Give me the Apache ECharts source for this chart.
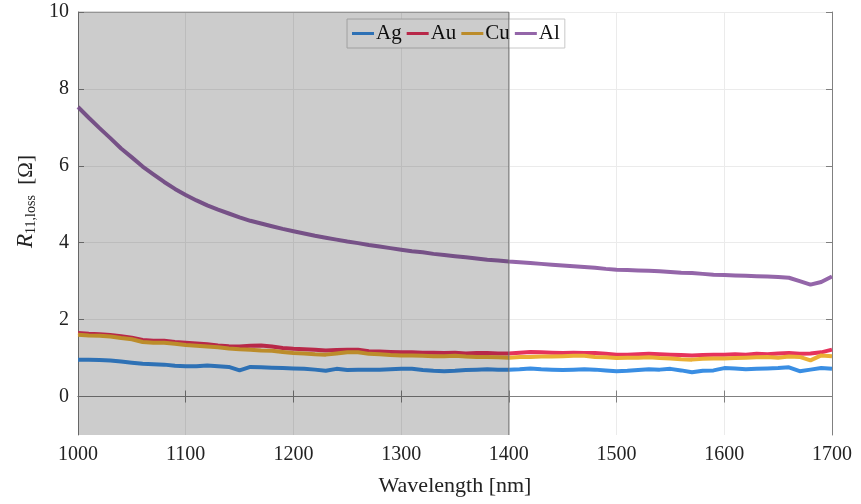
<!DOCTYPE html>
<html>
<head>
<meta charset="utf-8">
<script src="https://cdn.jsdelivr.net/npm/echarts@6/dist/echarts.min.js"></script>
<style>
  html, body { margin: 0; padding: 0; background: #fff; }
  #chart { width: 861px; height: 504px; }
</style>
</head>
<body>
<div id="chart"></div>
<script>
// wavelength grid, nm
const wavelengths = [];
for (let w = 1000; w <= 1700; w += 10) wavelengths.push(w);

// values, ohm
const agValues = [0.96, 0.96, 0.95, 0.94, 0.91, 0.88, 0.85, 0.84, 0.83, 0.80,
  0.79, 0.79, 0.81, 0.79, 0.77, 0.68, 0.77, 0.76, 0.75, 0.74,
  0.73, 0.72, 0.70, 0.67, 0.72, 0.69, 0.70, 0.70, 0.70, 0.71,
  0.72, 0.72, 0.69, 0.67, 0.66, 0.67, 0.69, 0.70, 0.71, 0.70,
  0.70, 0.71, 0.73, 0.71, 0.70, 0.69, 0.70, 0.71, 0.70, 0.68,
  0.66, 0.67, 0.69, 0.71, 0.70, 0.72, 0.68, 0.63, 0.67, 0.68,
  0.74, 0.73, 0.71, 0.72, 0.73, 0.74, 0.76, 0.66, 0.70, 0.74, 0.72];
const auValues = [1.65, 1.63, 1.62, 1.60, 1.57, 1.53, 1.47, 1.45, 1.45, 1.42,
  1.40, 1.38, 1.36, 1.33, 1.31, 1.30, 1.32, 1.33, 1.30, 1.26,
  1.24, 1.23, 1.22, 1.20, 1.21, 1.22, 1.22, 1.18, 1.17, 1.16,
  1.15, 1.15, 1.14, 1.14, 1.13, 1.14, 1.12, 1.13, 1.13, 1.12,
  1.12, 1.14, 1.16, 1.15, 1.14, 1.13, 1.14, 1.13, 1.13, 1.11,
  1.09, 1.09, 1.10, 1.11, 1.10, 1.09, 1.08, 1.07, 1.08, 1.09,
  1.09, 1.10, 1.09, 1.11, 1.10, 1.12, 1.13, 1.11, 1.12, 1.15, 1.22];
const cuValues = [1.61, 1.59, 1.58, 1.56, 1.52, 1.49, 1.42, 1.40, 1.40, 1.37,
  1.34, 1.32, 1.30, 1.28, 1.25, 1.23, 1.22, 1.20, 1.19, 1.16,
  1.13, 1.12, 1.10, 1.09, 1.12, 1.15, 1.15, 1.11, 1.10, 1.08,
  1.07, 1.07, 1.06, 1.05, 1.05, 1.06, 1.04, 1.03, 1.03, 1.02,
  1.01, 1.03, 1.03, 1.04, 1.04, 1.05, 1.06, 1.06, 1.03, 1.02,
  1.00, 1.01, 1.01, 1.02, 1.00, 0.99, 0.97, 0.96, 0.98, 0.99,
  0.99, 1.00, 1.01, 1.02, 1.03, 1.01, 1.04, 1.03, 0.94, 1.07, 1.05];
const alValues = [7.53, 7.25, 6.98, 6.72, 6.45, 6.22, 5.98, 5.78, 5.58, 5.40,
  5.24, 5.10, 4.97, 4.86, 4.76, 4.66, 4.57, 4.50, 4.43, 4.36,
  4.30, 4.24, 4.18, 4.13, 4.08, 4.03, 3.99, 3.94, 3.90, 3.86,
  3.82, 3.78, 3.75, 3.71, 3.68, 3.65, 3.62, 3.59, 3.56, 3.54,
  3.51, 3.49, 3.47, 3.45, 3.43, 3.41, 3.39, 3.37, 3.35, 3.32,
  3.30, 3.29, 3.28, 3.27, 3.26, 3.24, 3.22, 3.21, 3.19, 3.17,
  3.16, 3.15, 3.14, 3.13, 3.12, 3.11, 3.09, 3.00, 2.91, 2.98, 3.12];

const metalNames = ['Ag', 'Au', 'Cu', 'Al'];
const metalColors = ['#3a8ee3', '#e6335c', '#ebb035', '#9466a9'];
const yTicks = [0, 2, 4, 6, 8, 10];
const shadeRange = [1000, 1400];

const FONT = 'Liberation Serif';
const AXIS_COLOR = '#808080';

const chart = echarts.init(document.getElementById('chart'));

const pair = vals => wavelengths.map((w, i) => [w, vals[i]]);

const lineSeries = [agValues, auValues, cuValues, alValues].map((vals, i) => ({
  name: metalNames[i],
  type: 'line',
  data: pair(vals),
  symbol: 'none',
  z: 2,
  lineStyle: { width: 4, color: metalColors[i] },
  itemStyle: { color: metalColors[i] }
}));

// grey band over the short-wavelength part, drawn on top of the lines
const shadeSeries = {
  name: 'shade',
  type: 'line',
  data: [[shadeRange[0], 10], [shadeRange[1], 10], [shadeRange[1], -1]],
  symbol: 'none',
  silent: true,
  z: 5,
  lineStyle: { width: 1, color: '#6e6e6e' },
  areaStyle: { color: 'rgba(0,0,0,0.2)', opacity: 1, origin: 'start' }
};

chart.setOption({
  animation: false,
  textStyle: { fontFamily: FONT },
  grid: { left: 78, right: 29, top: 12, bottom: 69 },
  legend: {
    data: metalNames,
    left: 347,
    top: 19,
    icon: 'rect',
    itemWidth: 22,
    itemHeight: 3,
    itemGap: 5,
    padding: [4, 5, 4, 5],
    backgroundColor: '#fff',
    borderColor: '#c8c8c8',
    borderWidth: 1,
    textStyle: { fontFamily: FONT, fontSize: 21, color: '#111', padding: [0, 0, 0, -3] }
  },
  xAxis: [{
    type: 'value',
    min: 1000,
    max: 1700,
    interval: 100,
    name: 'Wavelength [nm]',
    nameLocation: 'middle',
    nameGap: 40,
    nameTextStyle: { fontFamily: FONT, fontSize: 22, color: '#222' },
    axisLine: { show: true, lineStyle: { color: AXIS_COLOR } },
    axisTick: { inside: true, length: 6, lineStyle: { color: AXIS_COLOR } },
    axisLabel: { fontFamily: FONT, fontSize: 20, color: '#222', margin: 10, formatter: v => String(v) },
    splitLine: { show: true, lineStyle: { color: '#ebebeb' } }
  }, {
    type: 'value',
    position: 'top',
    min: 1000,
    max: 1700,
    interval: 100,
    axisLine: { show: true, lineStyle: { color: AXIS_COLOR } },
    axisTick: { inside: true, length: 6, lineStyle: { color: AXIS_COLOR } },
    axisLabel: { show: false },
    splitLine: { show: false }
  }],
  yAxis: [{
    type: 'value',
    min: -1,
    max: 10,
    name: '{r|R}{s|11,loss}{n|  [Ω]}',
    nameLocation: 'middle',
    nameRotate: 90,
    nameGap: 40,
    nameTextStyle: {
      color: '#222',
      padding: [0, 0, 0, 44],
      rich: {
        r: { fontFamily: FONT, fontStyle: 'italic', fontSize: 23, color: '#222' },
        s: { fontFamily: FONT, fontSize: 14, color: '#222', padding: [10, 0, 0, 0] },
        n: { fontFamily: FONT, fontSize: 21, color: '#222' }
      }
    },
    axisLine: { show: true, lineStyle: { color: AXIS_COLOR } },
    axisTick: { inside: true, length: 6, customValues: yTicks, lineStyle: { color: AXIS_COLOR } },
    axisLabel: { fontFamily: FONT, fontSize: 20, color: '#222', margin: 9, customValues: yTicks },
    splitLine: { show: true, lineStyle: { color: '#ebebeb' } }
  }, {
    type: 'value',
    position: 'right',
    min: -1,
    max: 10,
    axisLine: { show: true, lineStyle: { color: AXIS_COLOR } },
    axisTick: { inside: true, length: 6, customValues: yTicks, lineStyle: { color: AXIS_COLOR } },
    axisLabel: { show: false },
    splitLine: { show: false }
  }],
  series: [...lineSeries, shadeSeries]
});
</script>
</body>
</html>
